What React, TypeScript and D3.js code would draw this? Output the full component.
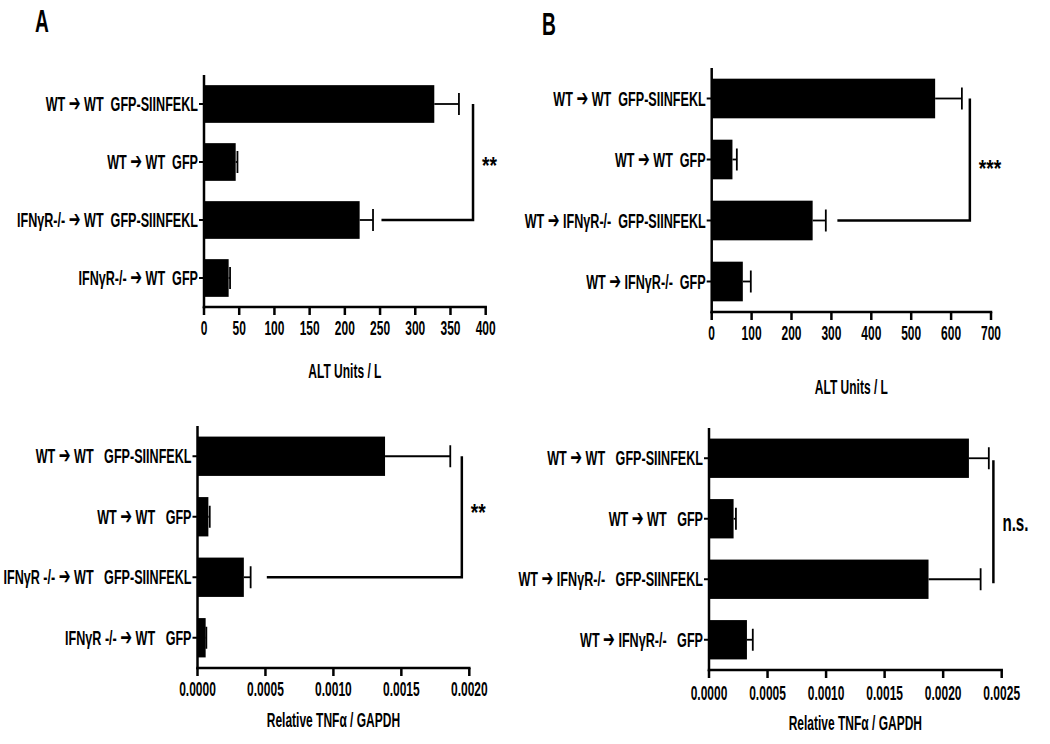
import React from 'react';
import * as d3 from 'd3';

// ---------- data ----------
const catsAltA = ['WT ➔ WT  GFP-SIINFEKL', 'WT ➔ WT  GFP', 'IFNγR-/- ➔ WT  GFP-SIINFEKL', 'IFNγR-/- ➔ WT  GFP'];
const altAMean = [327, 45, 221, 35];
const altASem = [35, 2.5, 19, 2];
const altATicks = [0, 50, 100, 150, 200, 250, 300, 350, 400];

const catsAltB = ['WT ➔ WT  GFP-SIINFEKL', 'WT ➔ WT  GFP', 'WT ➔ IFNγR-/-  GFP-SIINFEKL', 'WT ➔ IFNγR-/-  GFP'];
const altBMean = [560, 52, 253, 78];
const altBSem = [67, 11, 33, 20];
const altBTicks = [0, 100, 200, 300, 400, 500, 600, 700];

const catsTnfA = ['WT ➔ WT   GFP-SIINFEKL', 'WT ➔ WT   GFP', 'IFNγR -/- ➔ WT   GFP-SIINFEKL', 'IFNγR -/- ➔ WT   GFP'];
const tnfAMean = [0.00138, 0.00008, 0.000341, 0.00006];
const tnfASem = [0.00048, 0.00001, 0.00005, 0.000005];
const tnfATicks = [0, 0.0005, 0.001, 0.0015, 0.002];

const catsTnfB = ['WT ➔ WT   GFP-SIINFEKL', 'WT ➔ WT   GFP', 'WT ➔ IFNγR-/-   GFP-SIINFEKL', 'WT ➔ IFNγR-/-   GFP'];
const tnfBMean = [0.00222, 0.00021, 0.001875, 0.000324];
const tnfBSem = [0.00017, 0.00002, 0.000445, 0.00005];
const tnfBTicks = [0, 0.0005, 0.001, 0.0015, 0.002, 0.0025];

// significance brackets (values in data units)
const sigAltA = { from: 0, to: 2, at: 382, start: 252, label: '**' };
const sigAltB = { from: 0, to: 2, at: 647, start: 315, label: '***' };
const sigTnfA = { from: 0, to: 2, at: 0.001945, start: 0.00051, label: '**' };
const sigTnfB = { from: 0, to: 2, at: 0.002429, start: null as number | null, label: 'n.s.' };

const altTitle = 'ALT Units / L';
const tnfTitle = 'Relative TNFα / GAPDH';

// ---------- style ----------
const FONT = "'Liberation Sans', Arial, sans-serif";
const SX = 0.6;

function T({ x, y, anchor = 'start', size = 20, sx = SX, children }: any) {
  let content: any = children;
  if (typeof children === 'string' && children.includes('➔')) {
    const parts = children.split('➔');
    content = parts.flatMap((s: string, i: number) =>
      i === 0 ? [s] : [<tspan key={i} fontSize={size * 1.12} fontFamily="'DejaVu Sans', sans-serif">➔</tspan>, s]
    );
  }
  return (
    <text
      transform={`translate(${x},${y}) scale(${sx},1)`}
      textAnchor={anchor}
      fontFamily={FONT}
      fontWeight="bold"
      fontSize={size}
      fill="#000"
      style={{ whiteSpace: 'pre' }}
    >
      {content}
    </text>
  );
}

type Sig = { from: number; to: number; at: number; start: number | null; label: string };
type PanelProps = {
  cats: string[]; mean: number[]; sem: number[]; ticks: number[];
  domain: [number, number]; fmt: (v: number) => string;
  x0: number; x1: number; yTop: number; yBot: number;
  tickDy: number; titleDy: number; title: string;
  sig: Sig; sigDy: number; sigSize: number; sigSx: number;
};

function Panel(p: PanelProps) {
  const x = d3.scaleLinear().domain(p.domain).range([p.x0, p.x1]);
  const y = d3.scaleBand<string>().domain(p.cats).range([p.yTop, p.yBot]).paddingInner(0.35).paddingOuter(0.175);
  const bw = y.bandwidth();
  const cy = (i: number) => (y(p.cats[i]) as number) + bw / 2;
  const sy1 = cy(p.sig.from);
  const sy2 = cy(p.sig.to);
  return (
    <g>
      {p.cats.map((c, i) => (
        <g key={c}>
          <rect x={x(0)} y={y(c)} width={x(p.mean[i]) - x(0)} height={bw} fill="#000" />
          <line x1={x(p.mean[i])} x2={x(p.mean[i] + p.sem[i])} y1={cy(i)} y2={cy(i)} stroke="#000" strokeWidth={1.8} />
          <line x1={x(p.mean[i] + p.sem[i])} x2={x(p.mean[i] + p.sem[i])} y1={cy(i) - 11} y2={cy(i) + 11} stroke="#000" strokeWidth={1.8} />
          <line x1={p.x0 - 5} x2={p.x0} y1={cy(i)} y2={cy(i)} stroke="#000" strokeWidth={2} />
          <T x={p.x0 - 6} y={cy(i) + 7} anchor="end" size={21} sx={0.6}>{c}</T>
        </g>
      ))}
      <line x1={p.x0} x2={p.x0} y1={p.yTop} y2={p.yBot + 1.25} stroke="#000" strokeWidth={2.5} />
      <line x1={p.x0 - 1.25} x2={p.x1 + 1.25} y1={p.yBot} y2={p.yBot} stroke="#000" strokeWidth={2.5} />
      {p.ticks.map((t) => (
        <g key={t}>
          <line x1={x(t)} x2={x(t)} y1={p.yBot} y2={p.yBot + 8} stroke="#000" strokeWidth={2.5} />
          <T x={x(t)} y={p.yBot + p.tickDy} anchor="middle" size={20}>{p.fmt(t)}</T>
        </g>
      ))}
      <T x={(p.x0 + p.x1) / 2} y={p.yBot + p.titleDy} anchor="middle" size={20}>{p.title}</T>
      <path
        d={
          p.sig.start !== null
            ? `M${x(p.sig.at)},${sy1}V${sy2}H${x(p.sig.start)}`
            : `M${x(p.sig.at)},${sy1 + 2}V${sy2 + 4}`
        }
        fill="none" stroke="#000" strokeWidth={2.5}
      />
      <T x={x(p.sig.at) + 9} y={(sy1 + sy2) / 2 + p.sigDy} anchor="start" size={p.sigSize} sx={p.sigSx}>{p.sig.label}</T>
    </g>
  );
}

const fmtInt = d3.format('d');
const fmt4 = d3.format('.4f');

export default function App() {
  return (
    <svg width={1050} height={744} style={{ position: 'absolute', left: 0, top: 0, background: '#fff' }}>
      <rect width={1050} height={744} fill="#fff" />
      <T x={42} y={32} anchor="middle" size={32}>A</T>
      <T x={549} y={35} anchor="middle" size={32}>B</T>
      <Panel cats={catsAltA} mean={altAMean} sem={altASem} ticks={altATicks} domain={[0, 400]} fmt={fmtInt}
        x0={204} x1={485.7} yTop={75} yBot={307} tickDy={28} titleDy={71} title={altTitle}
        sig={sigAltA} sigDy={12} sigSize={24} sigSx={0.8} />
      <Panel cats={catsAltB} mean={altBMean} sem={altBSem} ticks={altBTicks} domain={[0, 700]} fmt={fmtInt}
        x0={711.7} x1={991} yTop={68} yBot={312} tickDy={28} titleDy={82} title={altTitle}
        sig={sigAltB} sigDy={17} sigSize={24} sigSx={0.8} />
      <Panel cats={catsTnfA} mean={tnfAMean} sem={tnfASem} ticks={tnfATicks} domain={[0, 0.002]} fmt={fmt4}
        x0={197.5} x1={469.3} yTop={426} yBot={668} tickDy={28} titleDy={59} title={tnfTitle}
        sig={sigTnfA} sigDy={4} sigSize={24} sigSx={0.8} />
      <Panel cats={catsTnfB} mean={tnfBMean} sem={tnfBSem} ticks={tnfBTicks} domain={[0, 0.0025]} fmt={fmt4}
        x0={709} x1={1001.7} yTop={428} yBot={670} tickDy={30} titleDy={60} title={tnfTitle}
        sig={sigTnfB} sigDy={12} sigSize={23} sigSx={0.66} />
    </svg>
  );
}
